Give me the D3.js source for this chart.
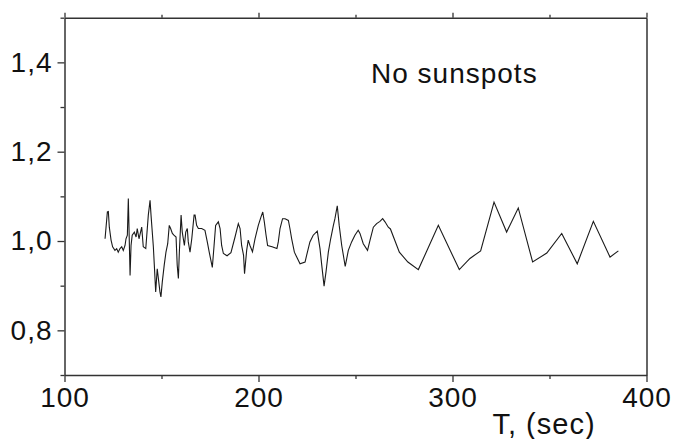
<!DOCTYPE html>
<html>
<head>
<meta charset="utf-8">
<script src="https://cdn.jsdelivr.net/npm/d3@7"></script>
<style>
  body { margin: 0; background: #fff; }
  text { font-family: "Liberation Sans", Arial, sans-serif; fill: #111; }
</style>
</head>
<body>
<div id="chart"></div>
<script>
// time, sec
const times = [
  120.9, 122.1, 122.6, 123.1, 124.0, 124.8, 126.0, 126.9, 127.7, 128.6,
  129.5, 130.3, 131.2, 131.7, 132.4, 132.9, 133.8, 134.3, 134.9, 136.0,
  136.9, 137.5, 138.4, 139.8, 140.6, 141.9, 143.2, 144.1, 144.6, 145.8,
  146.3, 147.0, 147.8, 149.2, 149.7, 150.4, 151.4, 152.3, 153.2, 154.0,
  154.7, 155.6, 156.4, 157.5, 158.1, 158.7, 159.2, 160.1, 160.7, 161.8,
  162.5, 163.3, 163.8, 164.7, 165.6, 166.8, 167.3, 168.1, 169.0, 170.7,
  172.4, 173.6, 174.6, 176.2, 177.1, 177.9, 179.3, 180.2, 181.0, 181.9,
  183.8, 185.8, 187.9, 189.6, 190.5, 191.3, 192.3, 192.8, 193.9, 194.7,
  195.6, 196.9, 198.2, 199.9, 201.3, 202.2, 203.0, 203.9, 204.7, 207.0,
  209.5, 210.2, 211.1, 212.4, 213.7, 215.4, 216.2, 217.1, 218.5, 219.7,
  221.4, 224.0, 224.8, 226.5, 228.2, 230.3, 231.7, 232.6, 233.8, 234.8,
  236.0, 237.2, 238.6, 239.4, 240.6, 241.6, 242.9, 244.7, 246.3, 248.0,
  249.7, 251.4, 252.3, 254.0, 256.2, 257.5, 259.2, 260.9, 262.6, 264.0,
  265.2, 266.9, 268.0, 272.6, 277.0, 282.4, 292.7, 303.5, 309.0, 314.5,
  321.4, 327.9, 333.9, 341.3, 348.6, 356.3, 364.3, 372.6, 381.2, 385.5
];
const values = [
  1.005, 1.065, 1.066, 1.031, 1.002, 0.987, 0.979, 0.983, 0.975, 0.983,
  0.987, 0.979, 0.990, 1.005, 1.013, 1.095, 0.923, 0.990, 1.013, 1.020,
  1.009, 1.028, 1.005, 1.031, 0.987, 0.983, 1.058, 1.091, 1.058, 0.987,
  0.946, 0.886, 0.938, 0.886, 0.875, 0.908, 0.946, 0.975, 0.994, 1.035,
  1.028, 1.017, 1.013, 1.009, 0.946, 0.916, 0.975, 1.058, 1.020, 0.990,
  1.020, 1.028, 0.998, 0.975, 1.005, 1.058, 1.058, 1.035, 1.028, 1.028,
  1.024, 0.998, 0.975, 0.941, 0.990, 1.035, 1.043, 1.028, 0.990, 0.972,
  0.967, 0.974, 1.009, 1.039, 1.028, 0.990, 0.968, 0.927, 0.979, 1.002,
  0.990, 0.976, 1.005, 1.035, 1.054, 1.065, 1.043, 1.013, 0.990, 0.987,
  0.983, 0.998, 1.028, 1.050, 1.050, 1.046, 1.028, 1.005, 0.975, 0.964,
  0.949, 0.953, 0.968, 0.998, 1.013, 1.022, 0.983, 0.946, 0.899, 0.931,
  0.975, 1.005, 1.035, 1.050, 1.079, 1.035, 0.990, 0.943, 0.979, 0.998,
  1.013, 1.024, 1.017, 0.994, 0.979, 1.002, 1.031, 1.039, 1.044, 1.050,
  1.043, 1.031, 1.027, 0.975, 0.953, 0.936, 1.035, 0.936, 0.961, 0.978,
  1.087, 1.020, 1.074, 0.953, 0.973, 1.017, 0.949, 1.044, 0.964, 0.978
];

const xMajor = [100, 200, 300, 400];
const xMinor = [150, 250, 350];
const yMajor = [0.8, 1.0, 1.2, 1.4];
const yMinor = [0.7, 0.9, 1.1, 1.3, 1.5];

const W = 673, H = 439;
const margin = {top: 17.7, right: 26.5, bottom: 64, left: 64.5};
const width = W - margin.left - margin.right;
const height = H - margin.top - margin.bottom;

const svg = d3.select("#chart")
  .append("svg")
    .attr("width", W)
    .attr("height", H);
const g = svg.append("g")
    .attr("transform", `translate(${margin.left},${margin.top})`);

const x = d3.scaleLinear().domain([100, 400]).range([0, width]);
const y = d3.scaleLinear().domain([0.7, 1.5]).range([height, 0]);

const axisColor = "#333";
const fmt = d => d3.format(".1f")(d).replace(".", ",");

function styleAxis(sel) {
  sel.selectAll("path.domain").attr("stroke", axisColor).attr("stroke-width", 1.5);
  sel.selectAll(".tick line").attr("stroke", axisColor).attr("stroke-width", 1.3);
  sel.selectAll(".tick text")
    .attr("fill", "#111")
    .style("font-size", "28px")
    .style("letter-spacing", "1px");
}

// bottom axis
g.append("g")
  .attr("transform", `translate(0,${height})`)
  .call(d3.axisBottom(x).tickValues(xMajor).tickSize(7).tickSizeOuter(0).tickPadding(5).tickFormat(d3.format("d")))
  .call(styleAxis)
  .call(a => a.selectAll(".tick text").attr("dy", "0.71em").attr("y", 12));
g.append("g")
  .attr("transform", `translate(0,${height})`)
  .call(d3.axisBottom(x).tickValues(xMinor).tickSize(4).tickSizeOuter(0).tickFormat(""))
  .call(styleAxis)
  .call(a => a.select(".domain").remove());

// top axis
g.append("g")
  .call(d3.axisTop(x).tickValues(xMajor).tickSize(5).tickSizeOuter(0).tickFormat(""))
  .call(styleAxis);
g.append("g")
  .call(d3.axisTop(x).tickValues(xMinor).tickSize(3).tickSizeOuter(0).tickFormat(""))
  .call(styleAxis)
  .call(a => a.select(".domain").remove());

// left axis
g.append("g")
  .call(d3.axisLeft(y).tickValues(yMajor).tickSize(7).tickSizeOuter(0).tickPadding(5).tickFormat(fmt))
  .call(styleAxis);
g.append("g")
  .call(d3.axisLeft(y).tickValues(yMinor).tickSize(4).tickSizeOuter(0).tickFormat(""))
  .call(styleAxis)
  .call(a => a.select(".domain").remove());

// right axis, line only
g.append("g")
  .attr("transform", `translate(${width},0)`)
  .call(d3.axisRight(y).tickValues([]).tickSizeOuter(0))
  .call(styleAxis);

// the series
const data = times.map((t, i) => ({t: t, v: values[i]}));
g.append("path")
  .datum(data)
  .attr("fill", "none")
  .attr("stroke", "#1a1a1a")
  .attr("stroke-width", 1.1)
  .attr("stroke-linejoin", "miter")
  .attr("d", d3.line().x(d => x(d.t)).y(d => y(d.v)));

// labels
g.append("text")
  .attr("x", 306.5)
  .attr("y", 65.5)
  .style("font-size", "28px")
  .style("letter-spacing", "1px")
  .text("No sunspots");

g.append("text")
  .attr("x", 428)
  .attr("y", 416.5)
  .style("font-size", "29px")
  .style("letter-spacing", "1px")
  .text("T, (sec)");
</script>
</body>
</html>
